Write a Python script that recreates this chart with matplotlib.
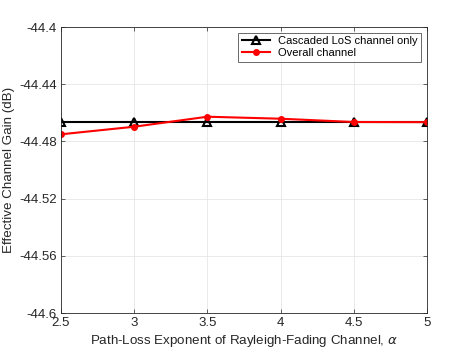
import matplotlib.pyplot as plt
import numpy as np

plt.rcParams['font.family'] = ['Liberation Sans', 'DejaVu Sans']

alpha = [2.5, 3, 3.5, 4, 4.5, 5]
los_gain = [-44.4665, -44.4665, -44.4665, -44.4665, -44.4665, -44.4665]
overall_gain = [-44.4750, -44.4697, -44.4627, -44.4641, -44.4664, -44.4665]

yticks = [-44.6, -44.56, -44.52, -44.48, -44.44, -44.4]
ytick_labels = ['-44.6', '-44.56', '-44.52', '-44.48', '-44.44', '-44.4']
xticks = [2.5, 3, 3.5, 4, 4.5, 5]
xtick_labels = ['2.5', '3', '3.5', '4', '4.5', '5']

fig = plt.figure(figsize=(4.71, 3.53), dpi=100)
ax = fig.add_axes([0.1295, 0.1133, 0.777, 0.810])

ax.plot(alpha, los_gain, color='black', lw=1.5, marker='^', ms=6,
        mfc='none', mew=1.5, label='Cascaded LoS channel only')
ax.plot(alpha, overall_gain, color='red', lw=1.5, marker='o', ms=4,
        mfc='red', label='Overall channel')

ax.set_xlim(2.5, 5)
ax.set_ylim(-44.6, -44.4)
ax.set_xticks(xticks)
ax.set_xticklabels(xtick_labels)
ax.set_yticks(yticks)
ax.set_yticklabels(ytick_labels)
ax.tick_params(labelsize=9.5, direction='in', length=3, width=0.5, colors='#262626',
               top=True, right=True, pad=3)
ax.grid(True, color='#e6e6e6', lw=0.6)
for s in ax.spines.values():
    s.set_linewidth(0.6)
    s.set_color('#262626')

ax.set_xlabel(r'Path-Loss Exponent of Rayleigh-Fading Channel, $\alpha$', fontsize=9.6,
              color='#262626', labelpad=3)
ax.set_ylabel('Effective Channel Gain (dB)', fontsize=9.6, color='#262626', labelpad=3)

leg = ax.legend(loc='upper right', fontsize=8, frameon=True, fancybox=False,
                edgecolor='#262626', handlelength=2.5, borderpad=0.3,
                labelspacing=0.2, borderaxespad=0.5)
leg.get_frame().set_linewidth(0.6)

fig.savefig('out.png', dpi=100)
